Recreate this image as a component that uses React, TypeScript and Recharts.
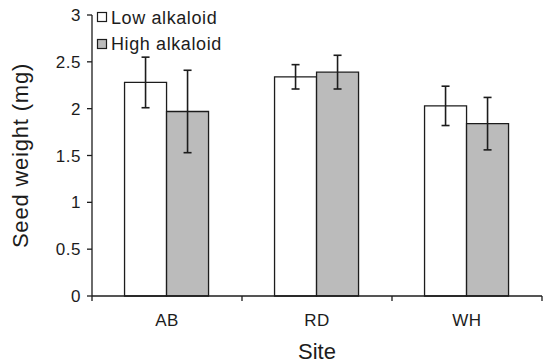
import React from 'react';
import { BarChart, Bar, XAxis, YAxis, ErrorBar, Legend } from 'recharts';

const sites = ['AB', 'RD', 'WH'];
const lowMeans = [2.28, 2.34, 2.03];
const lowErrors = [0.27, 0.13, 0.21];
const highMeans = [1.97, 2.39, 1.84];
const highErrors = [0.44, 0.18, 0.28];
const yTicks = [0, 0.5, 1, 1.5, 2, 2.5, 3];
const seriesNames = ['Low alkaloid', 'High alkaloid'];

const data = sites.map((s, i) => ({
  site: s,
  low: lowMeans[i],
  lowErr: lowErrors[i],
  high: highMeans[i],
  highErr: highErrors[i],
}));

const W = 543;
const H = 364;
const M = { top: 15, right: 1, left: 0, bottom: 0 };
const YW = 92;
const XH = 68;
const BAND = (W - M.left - M.right - YW) / sites.length;
const FONT = 'Liberation Sans, Arial, Helvetica, sans-serif';
const INK = '#1c1c1c';

function SiteTick(props: any) {
  const { x, y, payload, index } = props;
  const half = BAND / 2;
  return (
    <g>
      <line x1={x - half} x2={x - half} y1={y} y2={y + 5} stroke={INK} strokeWidth={1.3} />
      {index === sites.length - 1 && (
        <line x1={x + half} x2={x + half} y1={y} y2={y + 5} stroke={INK} strokeWidth={1.3} />
      )}
      <text x={x} y={y + 30} textAnchor="middle" fill={INK} fontSize={17} fontFamily={FONT} letterSpacing={0.5}>
        {payload.value}
      </text>
    </g>
  );
}

function LegendContent(props: any) {
  const items = [...(props.payload || [])].sort(
    (a: any, b: any) => seriesNames.indexOf(a.value) - seriesNames.indexOf(b.value)
  );
  return (
    <svg width={170} height={56} style={{ display: 'block' }}>
      {items.map((it: any, i: number) => (
        <g key={i}>
          <rect x={5.5} y={12.5 + 27 * i} width={9} height={9} fill={it.color} stroke={INK} strokeWidth={1.2} />
          <text x={19} y={24 + 26 * i} fill={INK} fontSize={18} fontFamily={FONT} letterSpacing={0.6}>
            {it.value}
          </text>
        </g>
      ))}
    </svg>
  );
}

export default function App() {
  return (
    <div style={{ position: 'absolute', left: 0, top: 0, width: W, height: H, background: '#fff' }}>
      <BarChart width={W} height={H} data={data} margin={M} barCategoryGap="21.7%" barGap={0}>
        <XAxis
          dataKey="site"
          height={XH}
          tickSize={0}
          tickMargin={0}
          interval={0}
          tick={<SiteTick />}
          axisLine={{ stroke: INK, strokeWidth: 1.3 }}
          tickLine={false}
          label={{ value: 'Site', position: 'insideBottom', offset: 5, fill: INK, fontSize: 22, fontFamily: FONT }}
        />
        <YAxis
          width={YW}
          domain={[0, 3]}
          ticks={yTicks}
          interval={0}
          tickSize={5}
          tickMargin={6}
          axisLine={{ stroke: INK, strokeWidth: 1.3 }}
          tickLine={{ stroke: INK, strokeWidth: 1.3 }}
          tick={{ fill: INK, fontSize: 17, fontFamily: FONT, letterSpacing: 0.5 }}
          label={{
            value: 'Seed weight (mg)',
            angle: -90,
            position: 'insideLeft',
            offset: 20,
            fill: INK,
            fontSize: 22,
            fontFamily: FONT,
            letterSpacing: 0.8,
            style: { textAnchor: 'middle' },
          }}
        />
        <Legend
          layout="vertical"
          align="center"
          verticalAlign="middle"
          content={<LegendContent />}
          wrapperStyle={{ left: 92, top: 0, width: 170, height: 56 }}
        />
        <Bar dataKey="low" name={seriesNames[0]} fill="#ffffff" stroke={INK} strokeWidth={1.3} isAnimationActive={false}>
          <ErrorBar dataKey="lowErr" width={4} stroke={INK} strokeWidth={1.6} direction="y" />
        </Bar>
        <Bar dataKey="high" name={seriesNames[1]} fill="#bbbbbb" stroke={INK} strokeWidth={1.3} isAnimationActive={false}>
          <ErrorBar dataKey="highErr" width={4} stroke={INK} strokeWidth={1.6} direction="y" />
        </Bar>
      </BarChart>
    </div>
  );
}
